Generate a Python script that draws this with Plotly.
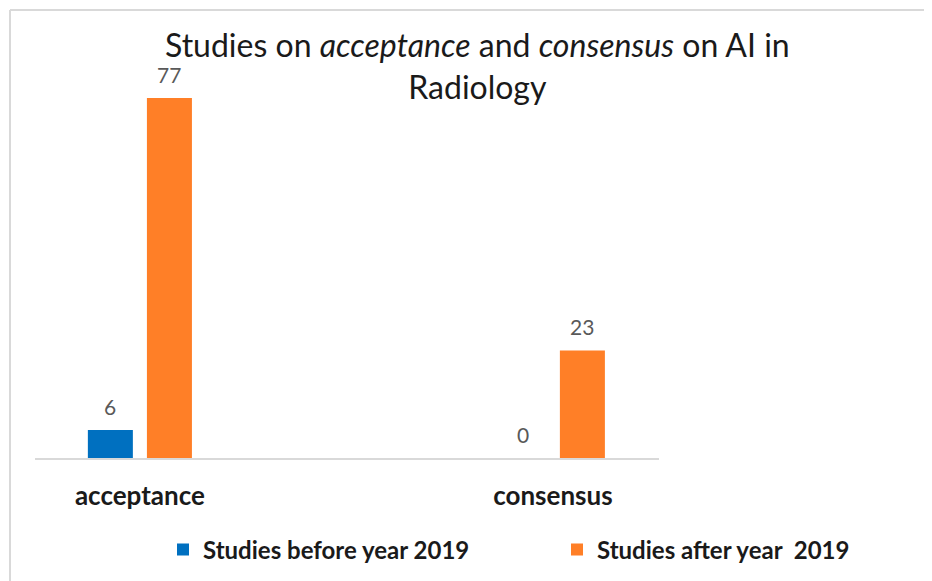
import plotly.graph_objects as go

categories = ["acceptance", "consensus"]
before_2019 = [6, 0]
after_2019 = [77, 23]
series_names = ["Studies before year 2019", "Studies after year  2019"]
title_text = "Studies on <i>acceptance</i> and <i>consensus</i> on AI in<br>Radiology"

FONT = "Lato, Carlito, 'Liberation Sans', sans-serif"
BLUE = "#0070C0"
ORANGE = "#FF7F27"

W, H = 924, 573          # page body has an 8px margin
L, R, T, B = 27, 273, 52, 123
PW, PH = W - L - R, H - T - B

xpos = list(range(len(categories)))
BAR_W = 0.109
OFFSETS = [-0.126, 0.017]

def px_x(p):
    return (p - L) / PW

def px_y(p):
    return (H - B - p) / PH

fig = go.Figure()
series = [(before_2019, BLUE, "legend"), (after_2019, ORANGE, "legend2")]
for (vals, col, lg), name, off in zip(series, series_names, OFFSETS):
    fig.add_trace(go.Bar(
        x=xpos, y=vals, name=f"<b>{name}</b>", legend=lg,
        marker=dict(color=col, line=dict(width=0)),
        width=BAR_W, offset=off,
    ))

annotations = []
for vals, off in zip([before_2019, after_2019], OFFSETS):
    for xp, v in zip(xpos, vals):
        annotations.append(dict(
            x=xp + off + BAR_W / 2, y=v, xref="x", yref="y",
            text=str(v), showarrow=False, yanchor="bottom", yshift=9,
            font=dict(size=21, color="#595959", family=FONT),
        ))

annotations.append(dict(
    x=px_x(469), y=px_y(58), xref="paper", yref="paper",
    text=title_text, showarrow=False, xanchor="center", yanchor="middle",
    font=dict(size=32, family=FONT, color="#1a1a1a"),
))

fig.update_layout(
    width=W, height=H,
    paper_bgcolor="white", plot_bgcolor="white",
    margin=dict(l=L, r=R, t=T, b=B, autoexpand=False),
    font=dict(family=FONT, color="#000000"),
    barmode="overlay",
    xaxis=dict(
        range=[-0.254, 1.257], tickvals=xpos,
        ticktext=[f"<b>{c}</b>" for c in categories],
        tickfont=dict(size=26, family=FONT, color="#1a1a1a"),
        showline=True, linecolor="#D9D9D9", linewidth=2,
        showgrid=False, zeroline=False, ticks="", ticklabelstandoff=14,
        fixedrange=True,
    ),
    yaxis=dict(range=[0, (H - B - T) / 4.675], visible=False,
               showgrid=False, zeroline=False),
    showlegend=True,
    legend=dict(
        orientation="h", xref="container", yref="container",
        x=155 / W, xanchor="left", y=1 - 542 / H, yanchor="middle",
        font=dict(size=24, family=FONT, color="#1a1a1a"),
        itemsizing="constant", bgcolor="rgba(0,0,0,0)",
    ),
    legend2=dict(
        orientation="h", xref="container", yref="container",
        x=549 / W, xanchor="left", y=1 - 542 / H, yanchor="middle",
        font=dict(size=24, family=FONT, color="#1a1a1a"),
        itemsizing="constant", bgcolor="rgba(0,0,0,0)",
    ),
    annotations=annotations,
    shapes=[
        dict(type="line", xref="paper", yref="paper",
             x0=px_x(2), x1=px_x(W + 10), y0=px_y(2), y1=px_y(2),
             line=dict(color="#D9D9D9", width=2)),
        dict(type="line", xref="paper", yref="paper",
             x0=px_x(2), x1=px_x(2), y0=px_y(2), y1=px_y(H + 10),
             line=dict(color="#D9D9D9", width=2)),
    ],
)

fig.write_html("out.html")
